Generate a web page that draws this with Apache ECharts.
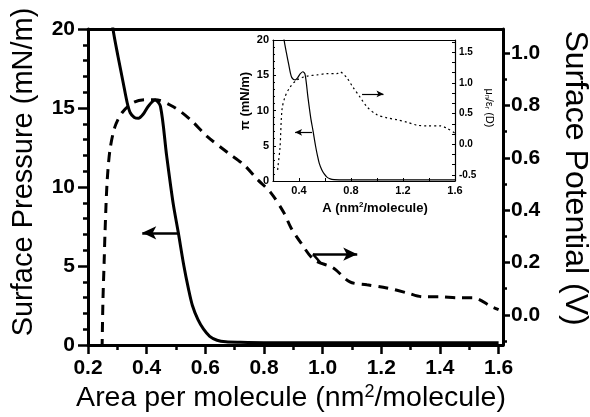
<!DOCTYPE html>
<html>
<head>
<meta charset="utf-8">
<script src="https://cdn.jsdelivr.net/npm/echarts@6/dist/echarts.min.js"></script>
<style>html,body{margin:0;padding:0;background:#fff;}#c{width:590px;height:417px;}</style>
</head>
<body>
<div id="c"></div>
<script>
// ---- data ----
const pressureArea   = [0.280,0.286,0.303,0.320,0.334,0.344,0.358,0.372,0.388,0.405,0.429,0.447,0.468,0.490,0.508,0.527,0.542,0.556,0.575,0.594,0.615,0.640,0.670,0.72,0.80,1.00,1.20,1.40,1.60];
const pressureValues = [21.0, 19.9, 18.2, 16.6, 15.3, 14.7, 14.4, 14.35,14.6, 15.1, 15.5, 15.1, 12.0, 9.0,  7.1,  5.0,  3.6,  2.5,  1.6,  1.0,  0.55, 0.3,  0.2,  0.17, 0.15, 0.15, 0.15, 0.15, 0.15];

const potentialArea   = [0.248,0.251,0.255,0.258,0.265,0.275,0.292,0.316,0.354,0.395,0.429,0.491,0.549,0.607,0.676,0.731,0.779,0.823,0.868,0.892,0.926,0.971,1.035,1.093,1.151,1.219,1.288,1.342,1.400,1.458,1.513,1.577,1.600];
const potentialValues = [-0.13,0.057,0.20, 0.314,0.505,0.631,0.719,0.772,0.811,0.822,0.822,0.795,0.746,0.681,0.620,0.574,0.516,0.467,0.390,0.333,0.275,0.210,0.180,0.126,0.115,0.103,0.084,0.069,0.069,0.065,0.065,0.031,0.020];

const dipoleArea   = [0.236,0.238,0.254,0.269,0.292,0.331,0.385,0.462,0.538,0.615,0.692,0.715,0.769,0.815,0.869,0.923,1.000,1.077,1.154,1.231,1.308,1.385,1.485,1.538,1.600];
const dipoleValues = [-0.42,-0.37,-0.05,0.56, 0.77, 0.93, 1.05, 1.11, 1.13, 1.15, 1.15, 1.18, 1.08, 0.93, 0.77, 0.61, 0.48, 0.43, 0.40, 0.36, 0.31, 0.30, 0.30, 0.26, 0.18];

const xTicks = [0.2,0.4,0.6,0.8,1.0,1.2,1.4,1.6];
const xMinorTicks = [0.3,0.5,0.7,0.9,1.1,1.3,1.5];
const potentialTicks = [0,0.2,0.4,0.6,0.8,1.0];
const potentialMinorTicks = [-0.1,0.1,0.3,0.5,0.7,0.9];
const insetXLabels = [0.4,0.8,1.2,1.6];
const insetXTicks = [0.2,0.4,0.6,0.8,1.0,1.2,1.4,1.6];
const insetDipoleLabels = [-0.5,0,0.5,1.0,1.5];
const insetDipoleTicks = [-0.5,-1/3,-1/6,0,1/6,1/3,0.5,2/3,5/6,1.0,7/6,4/3,1.5,5/3];

// arrow annotations (data coordinates)
const pressureArrow = [[0.508,7.1],[0.385,7.1]];
const potentialArrow = [[0.967,0.232],[1.118,0.232]];
const potentialHook = [[0.967,0.232],[0.992,0.200]];
const insetPressureArrow = [[0.50,6.9],[0.37,6.9]];
const insetDipoleArrow = [[0.885,0.82],[1.05,0.82]];

const zip = (a,b) => a.map((v,i) => [v,b[i]]);
const FONT = 'Liberation Sans';
const BLACK = '#000';

const chart = echarts.init(document.getElementById('c'), null, {renderer:'canvas'});

const noLabel = {show:false};
const mainXRange = {min:0.2, max:1.615};
const potRange = {min:-0.115, max:1.092};

const option = {
  animation:false,
  backgroundColor:'#fff',
  grid:[
    {left:88, right:87, top:29, bottom:72},
    {left:273, right:135, top:40, bottom:236}
  ],
  xAxis:[
    {type:'value', gridIndex:0, ...mainXRange, position:'bottom',
     axisLine:{onZero:false, lineStyle:{color:BLACK, width:3}},
     axisTick:{customValues:xTicks, length:9, lineStyle:{color:BLACK, width:2.5}},
     axisLabel:{customValues:xTicks, formatter:v=>v.toFixed(1), color:BLACK, fontFamily:FONT, fontWeight:'bold', fontSize:21, margin:13},
     splitLine:{show:false}},
    {type:'value', gridIndex:0, ...mainXRange, position:'bottom',
     axisLine:{show:false, onZero:false},
     axisTick:{customValues:xMinorTicks, length:5, lineStyle:{color:BLACK, width:2.5}},
     axisLabel:noLabel, splitLine:{show:false}},
    {type:'value', gridIndex:0, ...mainXRange, position:'top',
     axisLine:{onZero:false, lineStyle:{color:BLACK, width:3}},
     axisTick:{show:false}, axisLabel:noLabel, splitLine:{show:false}},
    {type:'value', gridIndex:1, min:0.2, max:1.6, position:'bottom',
     axisLine:{onZero:false, lineStyle:{color:BLACK, width:1.2}},
     axisTick:{customValues:insetXTicks, inside:true, length:3, lineStyle:{color:BLACK, width:1}},
     axisLabel:{customValues:insetXLabels, formatter:v=>v.toFixed(1), color:BLACK, fontFamily:FONT, fontWeight:'bold', fontSize:11, margin:4},
     splitLine:{show:false}},
    {type:'value', gridIndex:1, min:0.2, max:1.6, position:'top',
     axisLine:{onZero:false, lineStyle:{color:BLACK, width:1.2}},
     axisTick:{show:false}, axisLabel:noLabel, splitLine:{show:false}}
  ],
  yAxis:[
    {type:'value', gridIndex:0, min:0, max:20, interval:5, position:'left',
     axisLine:{show:true, onZero:false, lineStyle:{color:BLACK, width:3}},
     axisTick:{show:true, length:10, lineStyle:{color:BLACK, width:2.5}},
     minorTick:{show:true, splitNumber:5, length:5, lineStyle:{color:BLACK, width:2.5}},
     axisLabel:{color:BLACK, fontFamily:FONT, fontWeight:'bold', fontSize:21, margin:13},
     splitLine:{show:false}},
    {type:'value', gridIndex:0, ...potRange, position:'right',
     axisLine:{show:true, onZero:false, lineStyle:{color:BLACK, width:3}},
     axisTick:{show:true, customValues:potentialTicks, length:7, lineStyle:{color:BLACK, width:2.5}},
     axisLabel:{customValues:potentialTicks, formatter:v=>v.toFixed(1), color:BLACK, fontFamily:FONT, fontWeight:'bold', fontSize:21, margin:8},
     splitLine:{show:false}},
    {type:'value', gridIndex:0, ...potRange, position:'right',
     axisLine:{show:false, onZero:false},
     axisTick:{show:true, customValues:potentialMinorTicks, length:4, lineStyle:{color:BLACK, width:2.5}},
     axisLabel:noLabel, splitLine:{show:false}},
    {type:'value', gridIndex:1, min:0, max:20, interval:5, position:'left',
     axisLine:{show:true, onZero:false, lineStyle:{color:BLACK, width:1.2}},
     axisTick:{show:true, inside:true, length:3, lineStyle:{color:BLACK, width:1}},
     minorTick:{show:true, splitNumber:5, length:2, lineStyle:{color:BLACK, width:1}},
     axisLabel:{color:BLACK, fontFamily:FONT, fontWeight:'bold', fontSize:11, margin:4},
     splitLine:{show:false}},
    {type:'value', gridIndex:1, min:-0.6, max:1.7, position:'right',
     axisLine:{show:true, onZero:false, lineStyle:{color:BLACK, width:1.2}},
     axisTick:{show:true, inside:true, customValues:insetDipoleTicks, length:3, lineStyle:{color:BLACK, width:1}},
     axisLabel:{customValues:insetDipoleLabels, formatter:v=>v.toFixed(1), color:BLACK, fontFamily:FONT, fontWeight:'bold', fontSize:10, margin:4},
     splitLine:{show:false}}
  ],
  series:[
    {type:'line', xAxisIndex:0, yAxisIndex:0, data:zip(pressureArea, pressureValues),
     showSymbol:false, smooth:0.3, clip:true, lineStyle:{color:BLACK, width:3},
     markLine:{silent:true, symbol:['none','arrow'], symbolSize:[10,14], label:{show:false},
       lineStyle:{color:BLACK, width:2.5, type:'solid'},
       data:[[{coord:pressureArrow[0]},{coord:pressureArrow[1]}]]}},
    {type:'line', xAxisIndex:0, yAxisIndex:1, data:zip(potentialArea, potentialValues),
     showSymbol:false, smooth:0.3, clip:true, lineStyle:{color:BLACK, width:3, type:[10,7]},
     markLine:{silent:true, symbol:['none','arrow'], symbolSize:[10,14], label:{show:false},
       lineStyle:{color:BLACK, width:2.5, type:'solid'},
       data:[[{coord:potentialArrow[0]},{coord:potentialArrow[1]}],
             [{coord:potentialHook[0], symbol:'none'},{coord:potentialHook[1], symbol:'none'}]]}},
    {type:'line', xAxisIndex:3, yAxisIndex:3, data:zip(pressureArea, pressureValues),
     showSymbol:false, smooth:0.3, clip:true, lineStyle:{color:BLACK, width:1.2},
     markLine:{silent:true, symbol:['none','arrow'], symbolSize:[5,7], label:{show:false},
       lineStyle:{color:BLACK, width:1.2, type:'solid'},
       data:[[{coord:insetPressureArrow[0]},{coord:insetPressureArrow[1]}]]}},
    {type:'line', xAxisIndex:3, yAxisIndex:4, data:zip(dipoleArea, dipoleValues),
     showSymbol:false, smooth:0.3, clip:true, lineStyle:{color:BLACK, width:1.2, type:[2,3]},
     markLine:{silent:true, symbol:['none','arrow'], symbolSize:[5,7], label:{show:false},
       lineStyle:{color:BLACK, width:1.2, type:'solid'},
       data:[[{coord:insetDipoleArrow[0]},{coord:insetDipoleArrow[1]}]]}}
  ],
  graphic:[
    {type:'text', x:24, y:172, rotation:Math.PI/2, style:{text:'Surface Pressure (mN/m)', fill:BLACK, font:'29px "Liberation Sans"', align:'center', verticalAlign:'middle'}},
    {type:'text', x:291, y:398, style:{text:'Area per molecule (nm{sup|2}/molecule)', fill:BLACK, font:'28.5px "Liberation Sans"', align:'center', verticalAlign:'middle',
      rich:{sup:{fontSize:18, fontFamily:FONT, padding:[0,0,12,0]}}}},
    {type:'text', x:575, y:178, rotation:-Math.PI/2, style:{text:'Surface Potential (V)', fill:BLACK, font:'32px "Liberation Sans"', align:'center', verticalAlign:'middle'}},
    {type:'text', x:245, y:101, rotation:Math.PI/2, style:{text:'π (mN/m)', fill:BLACK, font:'bold 13px "Liberation Sans"', align:'center', verticalAlign:'middle'}},
    {type:'text', x:375, y:208, style:{text:'A (nm{sup|2}/molecule)', fill:BLACK, font:'bold 13px "Liberation Sans"', align:'center', verticalAlign:'middle',
      rich:{sup:{fontSize:8, fontWeight:'bold', fontFamily:FONT, padding:[0,0,7,0]}}}},
    {type:'text', x:489, y:108, rotation:-Math.PI/2, style:{text:'μ{sub|n}/ε{sub|r} (D)', fill:BLACK, font:'11px "Liberation Sans"', align:'center', verticalAlign:'middle',
      rich:{sub:{fontSize:7, fontFamily:FONT, padding:[5,0,0,0]}}}}
  ]
};
chart.setOption(option);
</script>
</body>
</html>
